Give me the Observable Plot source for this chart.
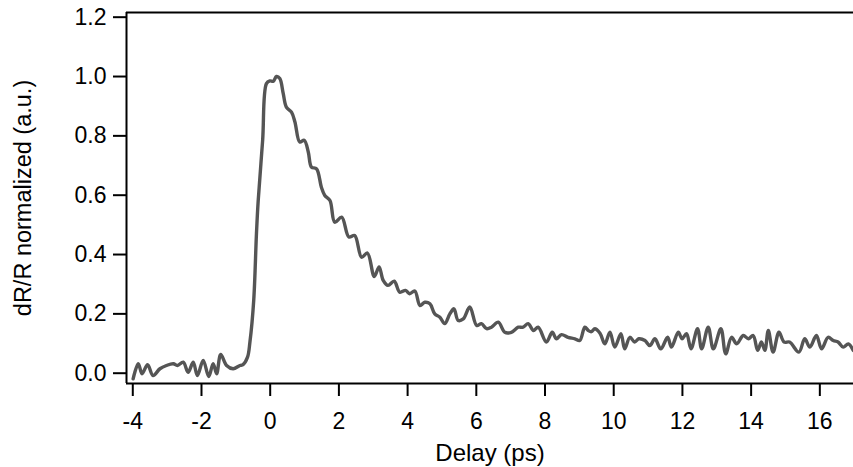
<!DOCTYPE html>
<html><head><meta charset="utf-8">
<script src="https://cdn.jsdelivr.net/npm/d3@7"></script>
<script src="https://cdn.jsdelivr.net/npm/@observablehq/plot@0.6"></script>
<style>body{margin:0;background:#fff} svg{display:block}</style>
</head><body><div id="chart"></div>
<script>
const delay = [-3.99,-3.84,-3.73,-3.57,-3.41,-3.21,-3.02,-2.82,-2.70,-2.53,-2.39,-2.24,-2.12,-1.95,-1.79,-1.66,-1.56,-1.44,-1.27,-1.08,-0.88,-0.79,-0.66,-0.59,-0.48,-0.40,-0.35,-0.22,-0.11,-0.01,0.09,0.18,0.28,0.38,0.47,0.62,0.72,0.86,0.99,1.11,1.20,1.35,1.49,1.59,1.74,1.88,2.08,2.29,2.46,2.66,2.83,3.03,3.17,3.29,3.43,3.61,3.77,3.94,4.06,4.21,4.36,4.50,4.65,4.79,4.94,5.08,5.23,5.35,5.47,5.62,5.81,6.01,6.15,6.30,6.44,6.64,6.83,7.02,7.22,7.36,7.51,7.66,7.80,8.04,8.21,8.33,8.48,8.67,8.87,9.01,9.16,9.26,9.35,9.45,9.60,9.74,9.89,10.03,10.21,10.32,10.47,10.61,10.73,10.91,11.05,11.20,11.37,11.57,11.68,11.88,11.99,12.12,12.25,12.44,12.56,12.75,12.90,13.12,13.26,13.43,13.58,13.77,13.92,14.06,14.19,14.30,14.40,14.50,14.64,14.81,14.96,15.12,15.39,15.56,15.71,15.90,16.05,16.24,16.39,16.53,16.68,16.83,16.97];
const signal = [-0.019,0.032,-0.002,0.029,-0.008,0.015,0.026,0.032,0.026,0.037,0.003,0.037,-0.008,0.043,-0.011,0.032,-0.002,0.063,0.026,0.015,0.026,0.029,0.054,0.105,0.245,0.47,0.58,0.785,0.976,0.985,0.984,1.0,0.993,0.942,0.897,0.880,0.847,0.779,0.785,0.745,0.695,0.689,0.627,0.599,0.582,0.509,0.526,0.459,0.464,0.391,0.405,0.326,0.358,0.313,0.296,0.31,0.273,0.279,0.268,0.277,0.228,0.239,0.234,0.200,0.189,0.167,0.200,0.217,0.178,0.183,0.223,0.161,0.167,0.150,0.155,0.172,0.138,0.138,0.155,0.155,0.167,0.144,0.155,0.105,0.138,0.116,0.130,0.121,0.116,0.110,0.155,0.144,0.140,0.150,0.135,0.099,0.138,0.088,0.133,0.082,0.121,0.105,0.116,0.110,0.093,0.116,0.082,0.121,0.088,0.138,0.116,0.133,0.082,0.150,0.082,0.155,0.082,0.150,0.065,0.121,0.099,0.127,0.116,0.127,0.077,0.105,0.077,0.144,0.071,0.138,0.105,0.105,0.071,0.116,0.088,0.127,0.082,0.121,0.110,0.105,0.088,0.099,0.077];
const xTicks = [-4,-2,0,2,4,6,8,10,12,14,16];
const yTicks = [0,0.2,0.4,0.6,0.8,1.0,1.2];
const xLabel = "Delay (ps)";
const yLabel = "dR/R normalized (a.u.)";

const data = delay.map((d, i) => ({delay: d, signal: signal[i]}));
const xDomain = [-4.183, 16.98];
const yDomain = [-0.0347, 1.2158];

const chart = Plot.plot({
  width: 853, height: 467,
  marginLeft: 126, marginRight: 0, marginTop: 12, marginBottom: 84,
  style: {fontFamily: "'Liberation Sans', Arial, sans-serif", fontSize: "23px", color: "#000", background: "#fff"},
  x: {domain: xDomain},
  y: {domain: yDomain},
  marks: [
    Plot.axisX(xTicks, {tickSize: 13, tickPadding: 16, strokeWidth: 2, fontSize: 23, tickFormat: d => String(d),
      label: null}),
    Plot.axisX({anchor: "bottom", ticks: [], tickSize: 0, fontSize: 24,
      label: xLabel, labelAnchor: "center", labelArrow: "none", labelOffset: 77}),
    Plot.axisY(yTicks, {tickSize: 13, tickPadding: 7, strokeWidth: 2, fontSize: 23, tickFormat: d3.format(".1f"),
      label: null}),
    Plot.axisY({anchor: "left", ticks: [], tickSize: 0, fontSize: 23.5,
      label: yLabel, labelAnchor: "center", labelArrow: "none", labelOffset: 112}),
    Plot.ruleY([yDomain[0]], {stroke: "#000", strokeWidth: 2}),
    Plot.ruleY([yDomain[1]], {stroke: "#000", strokeWidth: 2}),
    Plot.ruleX([xDomain[0]], {stroke: "#000", strokeWidth: 2}),
    Plot.line(data, {x: "delay", y: "signal", stroke: "#555555", strokeWidth: 3.4, curve: "catmull-rom"})
  ]
});
document.getElementById("chart").appendChild(chart);
</script>
</body></html>
